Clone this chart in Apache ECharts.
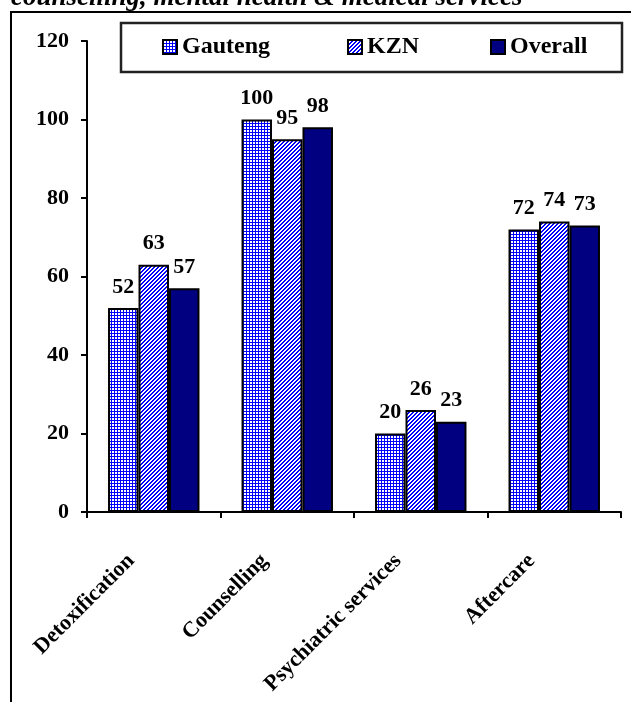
<!DOCTYPE html>
<html>
<head>
<meta charset="utf-8">
<script src="https://cdn.jsdelivr.net/npm/echarts@6/dist/echarts.min.js"></script>
<style>
  html, body { margin: 0; padding: 0; background: #fff; }
  #chart { width: 631px; height: 702px; }
</style>
</head>
<body>
<div id="chart"></div>
<script>
// Service categories and percentage of facilities offering each one
const categories = ['Detoxification', 'Counselling', 'Psychiatric services', 'Aftercare'];
const gauteng = [52, 100, 20, 72];
const kzn = [63, 95, 26, 74];
const overall = [57, 98, 23, 73];
const yTicks = [0, 20, 40, 60, 80, 100, 120];
const seriesNames = ['Gauteng', 'KZN', 'Overall'];

const FONT = "'Liberation Serif', 'Times New Roman', serif";

// Small repeating tiles used as bar fills
function makeTile(size, paint) {
  const c = document.createElement('canvas');
  c.width = size; c.height = size;
  const ctx = c.getContext('2d');
  ctx.fillStyle = '#ffffff';
  ctx.fillRect(0, 0, size, size);
  ctx.fillStyle = '#0000ff';
  for (let y = 0; y < size; y++) {
    for (let x = 0; x < size; x++) {
      if (paint(x, y)) ctx.fillRect(x, y, 1, 1);
    }
  }
  return c;
}
// fine blue grid
const gridTile = makeTile(3, (x, y) => x === 0 || y === 0);
// fine blue "/" hatching
const hatchTile = makeTile(4, (x, y) => ((x + y) % 4) < 2);

const fills = [
  { image: gridTile, repeat: 'repeat' },
  { image: hatchTile, repeat: 'repeat' },
  '#000080'
];
const values = [gauteng, kzn, overall];

// one legend entry per series, spread across a framed box
const legendLeft = [162, 347, 490];
const legends = seriesNames.map((name, i) => ({
  data: [name],
  left: legendLeft[i],
  top: 35,
  padding: 0,
  icon: 'rect',
  itemWidth: 14,
  itemHeight: 14,
  textStyle: { fontFamily: FONT, fontWeight: 'bold', fontSize: 24, color: '#000' }
}));

const chart = echarts.init(document.getElementById('chart'), null, { renderer: 'canvas' });

const option = {
  animation: false,
  backgroundColor: '#ffffff',
  textStyle: { fontFamily: FONT },
  graphic: [
    {
      type: 'rect',
      shape: { x: 11, y: 12, width: 660, height: 720 },
      style: { fill: 'none', stroke: '#000', lineWidth: 2 },
      z: -1
    },
    {
      type: 'rect',
      shape: { x: 121, y: 23, width: 501, height: 49 },
      style: { fill: '#fff', stroke: '#222', lineWidth: 2.5 },
      z: -1
    },
    {
      type: 'text',
      left: 11,
      top: -15,
      style: {
        text: 'counselling, mental health & medical services',
        font: 'italic bold 27px ' + FONT,
        fill: '#000'
      },
      z: 10
    }
  ],
  legend: legends,
  grid: { left: 87, right: 10, top: 41, bottom: 190, containLabel: false, outerBoundsMode: 'none' },
  xAxis: {
    type: 'category',
    data: categories,
    axisLine: { lineStyle: { color: '#000', width: 2 } },
    axisTick: { show: true, length: 6, lineStyle: { color: '#000', width: 2 } },
    axisLabel: {
      rotate: 45,
      interval: 0,
      margin: 23,
      padding: [0, 32, 0, 0],
      fontFamily: FONT,
      fontWeight: 'bold',
      fontSize: 22,
      color: '#000'
    }
  },
  yAxis: {
    type: 'value',
    min: 0,
    max: 120,
    interval: 20,
    splitLine: { show: false },
    axisLine: { show: true, lineStyle: { color: '#000', width: 2 } },
    axisTick: { show: true, length: 6, lineStyle: { color: '#000', width: 2 } },
    axisLabel: {
      margin: 18,
      fontFamily: FONT,
      fontWeight: 'bold',
      fontSize: 22,
      color: '#000',
      formatter: v => (yTicks.includes(v) ? String(v) : '')
    }
  },
  series: seriesNames.map((name, i) => ({
    name,
    type: 'bar',
    data: values[i],
    barGap: 0,
    barCategoryGap: '31.5%',
    itemStyle: { color: fills[i], borderColor: '#000', borderWidth: 2 },
    label: {
      show: true,
      position: 'top',
      distance: 10,
      fontFamily: FONT,
      fontWeight: 'bold',
      fontSize: 22,
      color: '#000'
    }
  }))
};

chart.setOption(option);
</script>
</body>
</html>
